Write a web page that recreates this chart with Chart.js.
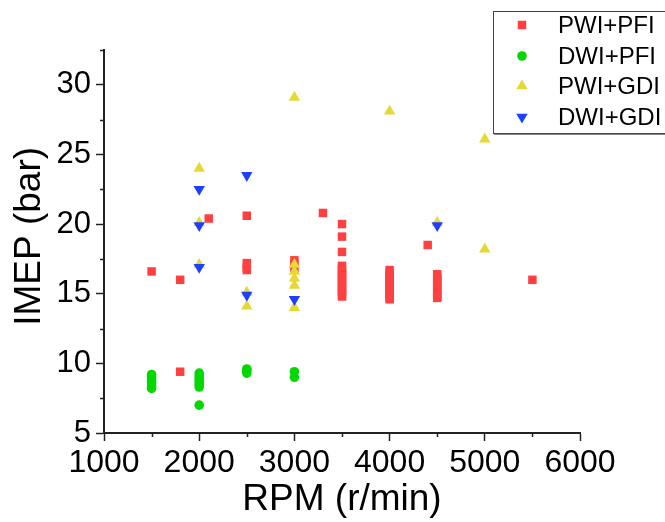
<!DOCTYPE html>
<html>
<head>
<meta charset="utf-8">
<script src="https://cdn.jsdelivr.net/npm/chart.js@4.4.1/dist/chart.umd.min.js"></script>
<style>
    html, body { margin: 0; padding: 0; background: #fff; }
    #wrap { width: 665px; height: 522px; }
</style>
</head>
<body>
<div id="wrap"><canvas id="imepChart" width="665" height="522"></canvas></div>
<script>
// =========================
// IMEP vs RPM scatter
// =========================

// Series labels
const seriesLabels = ['PWI+PFI', 'DWI+PFI', 'PWI+GDI', 'DWI+GDI'];

// PWI+PFI (red squares)
const pwiPfiRpm = [1500, 1800, 1800, 2100, 2500, 2500, 2500, 2500, 3000, 3000, 3000, 3300,
    3500, 3500, 3500, 3500, 3500, 3500, 3500, 3500, 3500, 3500, 3500, 3500, 3500, 3500, 3500,
    4000, 4000, 4000, 4000, 4000, 4000, 4000, 4000, 4000, 4000, 4000, 4000,
    4400, 4500, 4500, 4500, 4500, 4500, 4500, 4500, 4500, 4500, 4500, 5500];
const pwiPfiImep = [16.6, 16.0, 9.4, 20.4, 20.6, 17.2, 16.9, 16.7, 17.4, 17.1, 16.8, 20.8,
    20.0, 19.1, 18.0, 17.0, 16.8, 16.6, 16.4, 16.2, 16.0, 15.8, 15.6, 15.4, 15.2, 15.0, 14.8,
    16.7, 16.5, 16.3, 16.1, 15.9, 15.7, 15.5, 15.3, 15.1, 14.9, 14.7, 14.6,
    18.5, 16.4, 16.2, 16.0, 15.8, 15.6, 15.4, 15.2, 15.0, 14.8, 14.7, 16.0];

// DWI+PFI (green circles)
const dwiPfiRpm = [1500, 1500, 1500, 1500, 1500, 1500,
    2000, 2000, 2000, 2000, 2000, 2000, 2000,
    2500, 2500, 2500, 3000, 3000];
const dwiPfiImep = [9.2, 9.0, 8.8, 8.6, 8.4, 8.2,
    9.3, 9.1, 8.9, 8.7, 8.5, 8.3, 7.0,
    9.6, 9.5, 9.3, 9.4, 9.0];

// PWI+GDI (yellow triangles)
const pwiGdiRpm = [2000, 2000, 2000, 2500, 2500, 3000, 3000, 3000, 3000, 3000, 3000, 4000, 4500, 5000, 5000];
const pwiGdiImep = [24.0, 20.1, 17.1, 15.1, 14.1, 29.1, 17.1, 16.6, 16.1, 15.6, 14.0, 28.1, 20.1, 26.1, 18.2];

// DWI+GDI (blue inverted triangles)
const dwiGdiRpm = [2000, 2000, 2000, 2500, 2500, 3000, 4500];
const dwiGdiImep = [22.5, 19.9, 16.9, 23.5, 14.9, 14.6, 19.9];

// Axis ticks
const xMajorTicks = [1000, 2000, 3000, 4000, 5000, 6000];
const xMinorTicks = [1500, 2500, 3500, 4500, 5500];
const yMajorTicks = [5, 10, 15, 20, 25, 30];
const yMinorTicks = [7.5, 12.5, 17.5, 22.5, 27.5, 32.5];

const AXIS_COLOR = '#222';
const FONT = '"Liberation Sans", Arial, sans-serif';

function toPoints(xs, ys) {
    return xs.map((x, i) => ({ x: x, y: ys[i] }));
}

// Minor ticks + boxed legend like the original plot
const extrasPlugin = {
    id: 'extras',
    afterDraw(chart) {
        const ctx = chart.ctx;
        const xs = chart.scales.x;
        const ys = chart.scales.y;
        const area = chart.chartArea;

        ctx.save();
        ctx.strokeStyle = AXIS_COLOR;
        ctx.lineWidth = 1.5;
        ctx.beginPath();
        xMinorTicks.forEach(v => {
            const px = Math.round(xs.getPixelForValue(v)) + 0.5;
            ctx.moveTo(px, area.bottom);
            ctx.lineTo(px, area.bottom + 4);
        });
        yMinorTicks.forEach(v => {
            const py = Math.round(ys.getPixelForValue(v)) + 0.5;
            ctx.moveTo(area.left, py);
            ctx.lineTo(area.left - 4, py);
        });
        ctx.stroke();

        // legend box
        ctx.fillStyle = '#fff';
        ctx.fillRect(493, 11, 200, 123);
        ctx.strokeStyle = '#444';
        ctx.lineWidth = 1;
        ctx.strokeRect(493.5, 11.5, 200, 122);
        ctx.strokeStyle = '#888';
        ctx.beginPath();
        ctx.moveTo(494, 134.5);
        ctx.lineTo(665, 134.5);
        ctx.stroke();

        const rowY = [25, 56, 86, 117];
        chart.data.datasets.forEach((ds, i) => {
            ctx.fillStyle = ds.backgroundColor;
            ctx.strokeStyle = ds.borderColor;
            Chart.helpers.drawPoint(ctx, {
                pointStyle: ds.pointStyle,
                rotation: ds.rotation || 0,
                radius: ds.pointRadius,
                borderWidth: 0
            }, 522, rowY[i]);
            ctx.fillStyle = '#000';
            ctx.font = '24px ' + FONT;
            ctx.textAlign = 'left';
            ctx.textBaseline = 'middle';
            ctx.fillText(ds.label, 558, rowY[i] + 1);
        });
        ctx.restore();
    }
};

const ctx = document.getElementById('imepChart').getContext('2d');

new Chart(ctx, {
    type: 'scatter',
    data: {
        datasets: [
            {
                label: seriesLabels[0],
                data: toPoints(pwiPfiRpm, pwiPfiImep),
                pointStyle: 'rect',
                pointRadius: 6,
                backgroundColor: '#ff4040',
                borderColor: '#ff4040',
                borderWidth: 0,
                order: 4
            },
            {
                label: seriesLabels[1],
                data: toPoints(dwiPfiRpm, dwiPfiImep),
                pointStyle: 'circle',
                pointRadius: 4.8,
                backgroundColor: '#00d800',
                borderColor: '#00d800',
                borderWidth: 0,
                order: 3
            },
            {
                label: seriesLabels[2],
                data: toPoints(pwiGdiRpm, pwiGdiImep),
                pointStyle: 'triangle',
                pointRadius: 6.6,
                backgroundColor: '#e6d835',
                borderColor: '#e6d835',
                borderWidth: 0,
                order: 2
            },
            {
                label: seriesLabels[3],
                data: toPoints(dwiGdiRpm, dwiGdiImep),
                pointStyle: 'triangle',
                rotation: 180,
                pointRadius: 6.6,
                backgroundColor: '#1f3fff',
                borderColor: '#1f3fff',
                borderWidth: 0,
                order: 1
            }
        ]
    },
    options: {
        responsive: false,
        animation: false,
        layout: { padding: { top: 50, right: 85, bottom: 0, left: 0 } },
        plugins: {
            legend: { display: false },
            tooltip: { enabled: false }
        },
        scales: {
            x: {
                type: 'linear',
                min: xMajorTicks[0],
                max: xMajorTicks[xMajorTicks.length - 1],
                afterFit: s => { s.height = 89; },
                afterBuildTicks: s => { s.ticks = xMajorTicks.map(v => ({ value: v })); },
                ticks: {
                    color: '#000',
                    font: { family: FONT, size: 32 },
                    padding: 3,
                    maxRotation: 0,
                    autoSkip: false,
                    callback: v => String(v)
                },
                grid: {
                    drawOnChartArea: false,
                    drawTicks: true,
                    tickLength: 8,
                    tickColor: AXIS_COLOR,
                    tickWidth: 1.5
                },
                border: { color: AXIS_COLOR, width: 2 },
                title: {
                    display: true,
                    text: 'RPM (r/min)',
                    color: '#000',
                    font: { family: FONT, size: 37, lineHeight: 1.2 },
                    padding: { top: 0, bottom: 0 }
                }
            },
            y: {
                type: 'linear',
                min: 5,
                max: 32.5,
                afterFit: s => { s.width = 104; },
                afterBuildTicks: s => { s.ticks = yMajorTicks.map(v => ({ value: v })); },
                ticks: {
                    color: '#000',
                    font: { family: FONT, size: 31 },
                    padding: 5,
                    autoSkip: false,
                    callback: v => String(v)
                },
                grid: {
                    drawOnChartArea: false,
                    drawTicks: true,
                    tickLength: 8,
                    tickColor: AXIS_COLOR,
                    tickWidth: 1.5
                },
                border: { color: AXIS_COLOR, width: 2 },
                title: {
                    display: true,
                    text: ' IMEP (bar)',
                    color: '#000',
                    font: { family: FONT, size: 37, lineHeight: 1.2 },
                    padding: { top: 8, bottom: 0 }
                }
            }
        }
    },
    plugins: [extrasPlugin]
});
</script>
</body>
</html>
